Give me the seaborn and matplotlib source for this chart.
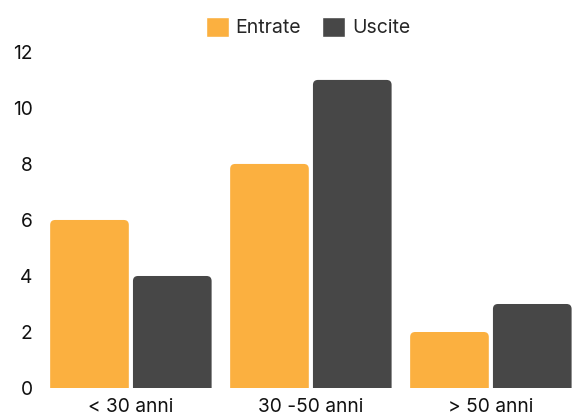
import pandas as pd
import matplotlib.pyplot as plt
import seaborn as sns
from matplotlib.patches import FancyBboxPatch, Patch

categories = ["< 30 anni", "30 -50 anni", "> 50 anni"]
entrate = [6, 8, 2]
uscite = [4, 11, 3]
series = ["Entrate", "Uscite"]
colors = ["#FBB040", "#474747"]

df = pd.DataFrame({
    "fascia": categories * 2,
    "valore": entrate + uscite,
    "tipo": [series[0]] * 3 + [series[1]] * 3,
})

sns.set_style("white")
plt.rcParams['font.family'] = ['Inter', 'DejaVu Sans']

fig = plt.figure(figsize=(5.8, 4.17), dpi=100)
ax = fig.add_axes([0.0705, 0.0695, 0.931, 0.806])

sns.barplot(data=df, x="fascia", y="valore", hue="tipo", palette=colors,
            saturation=1, width=0.92, gap=0.05, ax=ax, legend=False)

ax.set_ylim(0, 12)
ax.set_xlim(-0.5, 2.5)

# rounded top corners: swap bars for rounded boxes extending below 0
fig.canvas.draw()
bb = ax.get_window_extent()
px_x = (ax.get_xlim()[1] - ax.get_xlim()[0]) / bb.width
px_y = (ax.get_ylim()[1] - ax.get_ylim()[0]) / bb.height
r = 5 * px_x
for p in list(ax.patches):
    x, y = p.get_x(), p.get_y()
    w, h = p.get_width(), p.get_height()
    fc = p.get_facecolor()
    p.remove()
    ext = 10 * px_y
    box = FancyBboxPatch((x, y - ext), w, h + ext,
                         boxstyle=f"round,pad=0,rounding_size={r}",
                         mutation_aspect=px_y / px_x,
                         facecolor=fc, edgecolor="none")
    ax.add_patch(box)

ax.set_yticks(range(0, 13, 2))
ax.set_xlabel("")
ax.set_ylabel("")
ax.tick_params(axis="both", length=0, labelsize=13.8, colors="#111111")
ax.tick_params(axis="y", pad=6)
ax.tick_params(axis="x", pad=7)
sns.despine(ax=ax, left=True, bottom=True)

handles = [Patch(facecolor=c, label=s) for c, s in zip(colors, series)]
fig.legend(handles=handles, loc="center", bbox_to_anchor=(0.531, 0.935),
           ncol=2, frameon=False, fontsize=14, handlelength=1.18,
           handleheight=1.18, handletextpad=0.36, columnspacing=1.08)

plt.savefig("out.png", dpi=100)
